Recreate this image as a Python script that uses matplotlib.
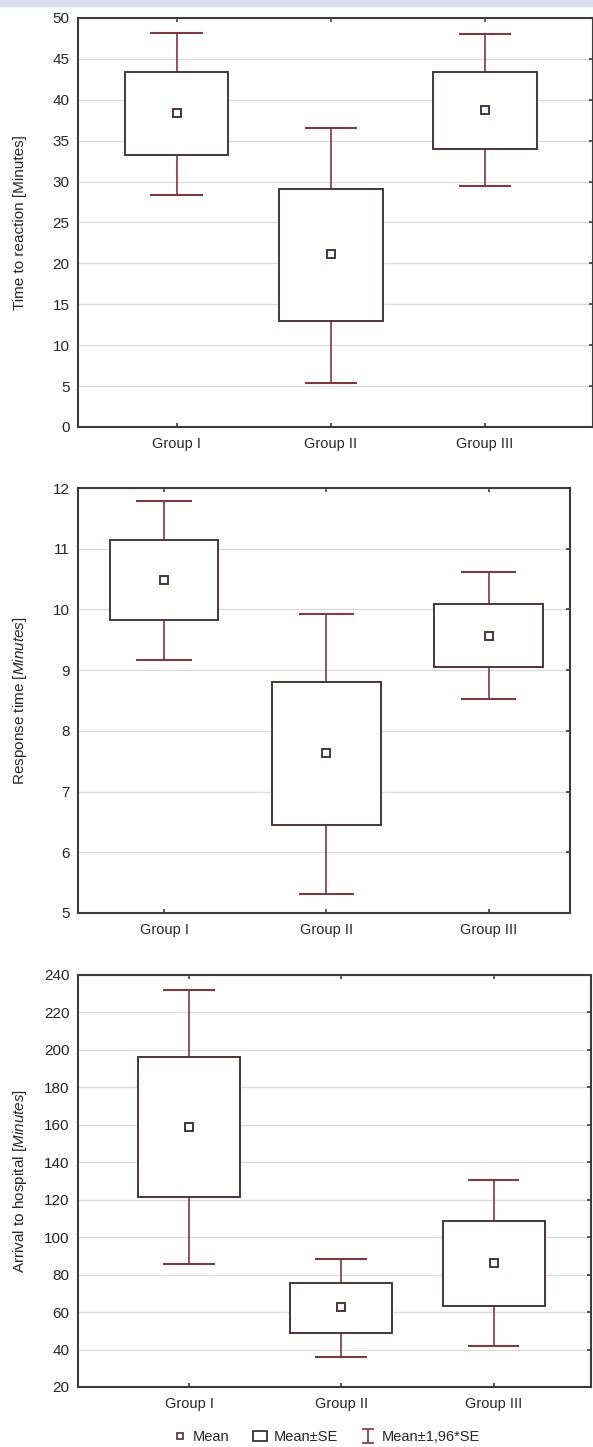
import numpy as np
import matplotlib
matplotlib.use("Agg")
import matplotlib.pyplot as plt
from matplotlib.patches import Patch, Rectangle
from matplotlib.lines import Line2D

plt.rcParams['font.family'] = ['Liberation Sans', 'DejaVu Sans']
plt.rcParams['mathtext.fontset'] = 'custom'
plt.rcParams['mathtext.rm'] = 'Liberation Sans'
plt.rcParams['mathtext.it'] = 'Liberation Sans:italic'

groups = ["Group I", "Group II", "Group III"]

# Panel 1: Time to reaction
p1_mean = [38.4, 21.1, 38.7]
p1_se_low = [33.2, 13.0, 34.0]
p1_se_high = [43.4, 29.1, 43.4]
p1_ci_low = [28.4, 5.4, 29.5]
p1_ci_high = [48.2, 36.6, 48.0]

# Panel 2: Response time
p2_mean = [10.49, 7.63, 9.57]
p2_se_low = [9.82, 6.45, 9.05]
p2_se_high = [11.15, 8.80, 10.09]
p2_ci_low = [9.16, 5.31, 8.53]
p2_ci_high = [11.79, 9.92, 10.61]

# Panel 3: Arrival to hospital
p3_mean = [159.0, 62.6, 86.1]
p3_se_low = [121.4, 49.1, 63.1]
p3_se_high = [196.0, 75.8, 108.5]
p3_ci_low = [85.6, 35.9, 41.7]
p3_ci_high = [231.8, 88.6, 130.5]

W, H = 593, 1447
fig = plt.figure(figsize=(W / 100, H / 100), dpi=100)
fig.patches.append(Rectangle((0, 1 - 6 / H), 1, 6 / H, transform=fig.transFigure,
                             color='#dcdcee', zorder=0))

BOX_EDGE = '#4a3636'
WHISK = '#7a3a46'
AX_COL = '#3c3c3c'
GRID = '#dcdcdc'
TXT = '#262626'

def panel(rect_px, data, ylim, yticks, ylabel, xlim):
    l, t, r, b = rect_px
    ax = fig.add_axes([l / W, 1 - b / H, (r - l) / W, (b - t) / H])
    mean, se_lo, se_hi, ci_lo, ci_hi = data
    x = np.arange(len(groups))
    bw = 0.67
    cw = 0.34
    ax.vlines(x, ci_lo, se_lo, color=WHISK, lw=1.2, zorder=2)
    ax.vlines(x, se_hi, ci_hi, color=WHISK, lw=1.2, zorder=2)
    ax.hlines(ci_lo, x - cw / 2, x + cw / 2, color=WHISK, lw=1.5, zorder=2)
    ax.hlines(ci_hi, x - cw / 2, x + cw / 2, color=WHISK, lw=1.5, zorder=2)
    ax.bar(x, np.array(se_hi) - np.array(se_lo), bottom=se_lo, width=bw,
           facecolor='white', edgecolor=BOX_EDGE, lw=1.4, zorder=3)
    ax.plot(x, mean, 's', ms=6, mfc='white', mec=BOX_EDGE, mew=1.4, zorder=4, ls='none')
    ax.set_xlim(*xlim)
    ax.set_ylim(*ylim)
    ax.set_yticks(yticks)
    ax.set_xticks(x)
    ax.set_xticklabels(groups)
    ax.yaxis.grid(True, color=GRID, lw=1)
    ax.set_axisbelow(True)
    for s in ax.spines.values():
        s.set_color(AX_COL)
        s.set_linewidth(1.5)
    ax.tick_params(direction='in', length=3, width=1.2, color=AX_COL,
                   top=True, right=True, labelcolor=TXT)
    ax.tick_params(axis='y', left=False, pad=6, labelsize=11)
    ax.tick_params(axis='x', pad=7, labelsize=10.5)
    fig.text(20 / W, 1 - ((t + b) / 2) / H, ylabel, rotation=90, ha='center',
             va='center', fontsize=11, color=TXT)
    return ax

ax1 = panel((78, 18, 593, 427), (p1_mean, p1_se_low, p1_se_high, p1_ci_low, p1_ci_high),
            (0, 50), np.arange(0, 51, 5), "Time to reaction [Minutes]", (-0.64, 2.7))
ax2 = panel((78, 488, 570, 913), (p2_mean, p2_se_low, p2_se_high, p2_ci_low, p2_ci_high),
            (5, 12), np.arange(5, 13, 1), r"Response time $\it{[Minutes]}$", (-0.53, 2.5))
ax3 = panel((78, 975, 591, 1387), (p3_mean, p3_se_low, p3_se_high, p3_ci_low, p3_ci_high),
            (20, 240), np.arange(20, 241, 20), r"Arrival to hospital $\it{[Minutes]}$", (-0.73, 2.64))

h_mean = Line2D([], [], marker='s', ms=5, mfc='white', mec=BOX_EDGE, mew=1.2, ls='none')
h_box = Patch(facecolor='white', edgecolor='#222222', lw=1.2)
h_ci = ax3.errorbar([np.nan], [np.nan], yerr=[[1], [1]], fmt='none', ecolor=WHISK,
                    capsize=4, elinewidth=1.2, capthick=1.2)
fig.legend([h_mean, h_box, h_ci], ["Mean", "Mean\u00b1SE", "Mean\u00b11,96*SE"],
           loc='center', bbox_to_anchor=(326 / W, 1 - 1437 / H), ncol=3, frameon=False,
           fontsize=10.5, handlelength=1.0, handletextpad=0.4, columnspacing=1.6,
           labelcolor=TXT)

fig.savefig("out.png", dpi=100, facecolor='white')
